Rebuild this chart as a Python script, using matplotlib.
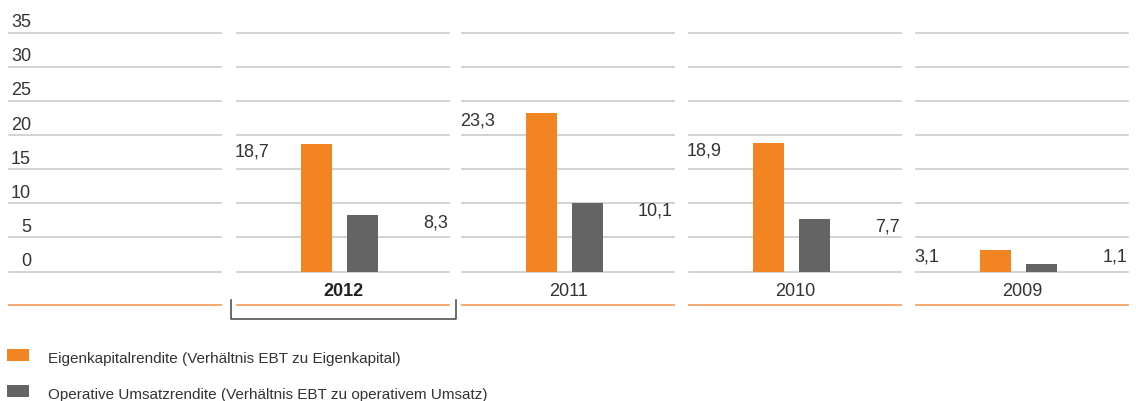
import matplotlib.pyplot as plt
from matplotlib.patches import Rectangle
from matplotlib.lines import Line2D

years = ["2012", "2011", "2010", "2009"]
eigenkapitalrendite = [18.7, 23.3, 18.9, 3.1]
umsatzrendite = [8.3, 10.1, 7.7, 1.1]
label_eigen = ["18,7", "23,3", "18,9", "3,1"]
label_umsatz = ["8,3", "10,1", "7,7", "1,1"]
yticks = [0, 5, 10, 15, 20, 25, 30, 35]
legend_labels = ["Eigenkapitalrendite (Verhältnis EBT zu Eigenkapital)",
                 "Operative Umsatzrendite (Verhältnis EBT zu operativem Umsatz)"]

ORANGE = "#f28522"
GRAY = "#646464"
GRID = "#cbcbcb"
TEXT = "#333333"
plt.rcParams['font.family'] = ['Liberation Sans', 'DejaVu Sans']

W, H = 1136, 401
fig = plt.figure(figsize=(W / 100, H / 100), dpi=100)

# pixel layout
y_zero, y_top = 271.5, 32.7
px_per_unit = (y_zero - y_top) / 35
panel_w = 212
panel_x = [9, 237, 462, 689, 916]


def px2data(ypx):
    return (y_zero - ypx) / px_per_unit


def make_panel(x0):
    ax = fig.add_axes([x0 / W, (H - y_zero) / H, panel_w / W, (y_zero - y_top) / H])
    ax.set_xlim(0, panel_w)
    ax.set_ylim(0, 35)
    ax.axis('off')
    for t in yticks:
        ax.plot([0, panel_w], [t, t], color=GRID, lw=1.2, zorder=1, clip_on=False)
    yl = px2data(305.3)
    ax.plot([0, panel_w], [yl, yl], color="#f5a263", lw=1.3, clip_on=False)
    return ax


# left column with tick labels
ax0 = make_panel(panel_x[0])
for t in yticks:
    ax0.text(22, t + 0.8, str(t), ha='right', va='baseline', fontsize=13, color=TEXT)

for i, yr in enumerate(years):
    ax = make_panel(panel_x[i + 1])
    ax.bar(79.5, eigenkapitalrendite[i], width=31, color=ORANGE, zorder=2)
    ax.bar(125, umsatzrendite[i], width=31, color=GRAY, zorder=2)
    ax.text(-2, max(eigenkapitalrendite[i] - 1.85, 1.4), label_eigen[i],
            ha='left', va='baseline', fontsize=13, color=TEXT)
    ax.text(panel_w - 1, max(umsatzrendite[i] - 1.85, 1.4), label_umsatz[i],
            ha='right', va='baseline', fontsize=13, color=TEXT)
    ax.text(panel_w / 2, px2data(296), yr, ha='center', va='baseline', fontsize=13,
            color="#222222" if i == 0 else TEXT, fontweight='bold' if i == 0 else 'normal')

# bracket under 2012
bx0, bx1, by0, by1 = 230.7, 456, 300, 318.7
fig.add_artist(Line2D([bx0 / W, bx0 / W, bx1 / W, bx1 / W],
                      [1 - by0 / H, 1 - by1 / H, 1 - by1 / H, 1 - by0 / H],
                      color="#444444", lw=1.1))

# legend
for j, (lab, col) in enumerate(zip(legend_labels, [ORANGE, GRAY])):
    sy = 349 + j * 36
    fig.add_artist(Rectangle((7 / W, 1 - (sy + 12) / H), 22 / W, 12 / H,
                             facecolor=col, edgecolor='none'))
    fig.text(48 / W, 1 - (sy + 14) / H, lab, ha='left', va='baseline',
             fontsize=11, color=TEXT)

plt.savefig('out.png', dpi=100)
